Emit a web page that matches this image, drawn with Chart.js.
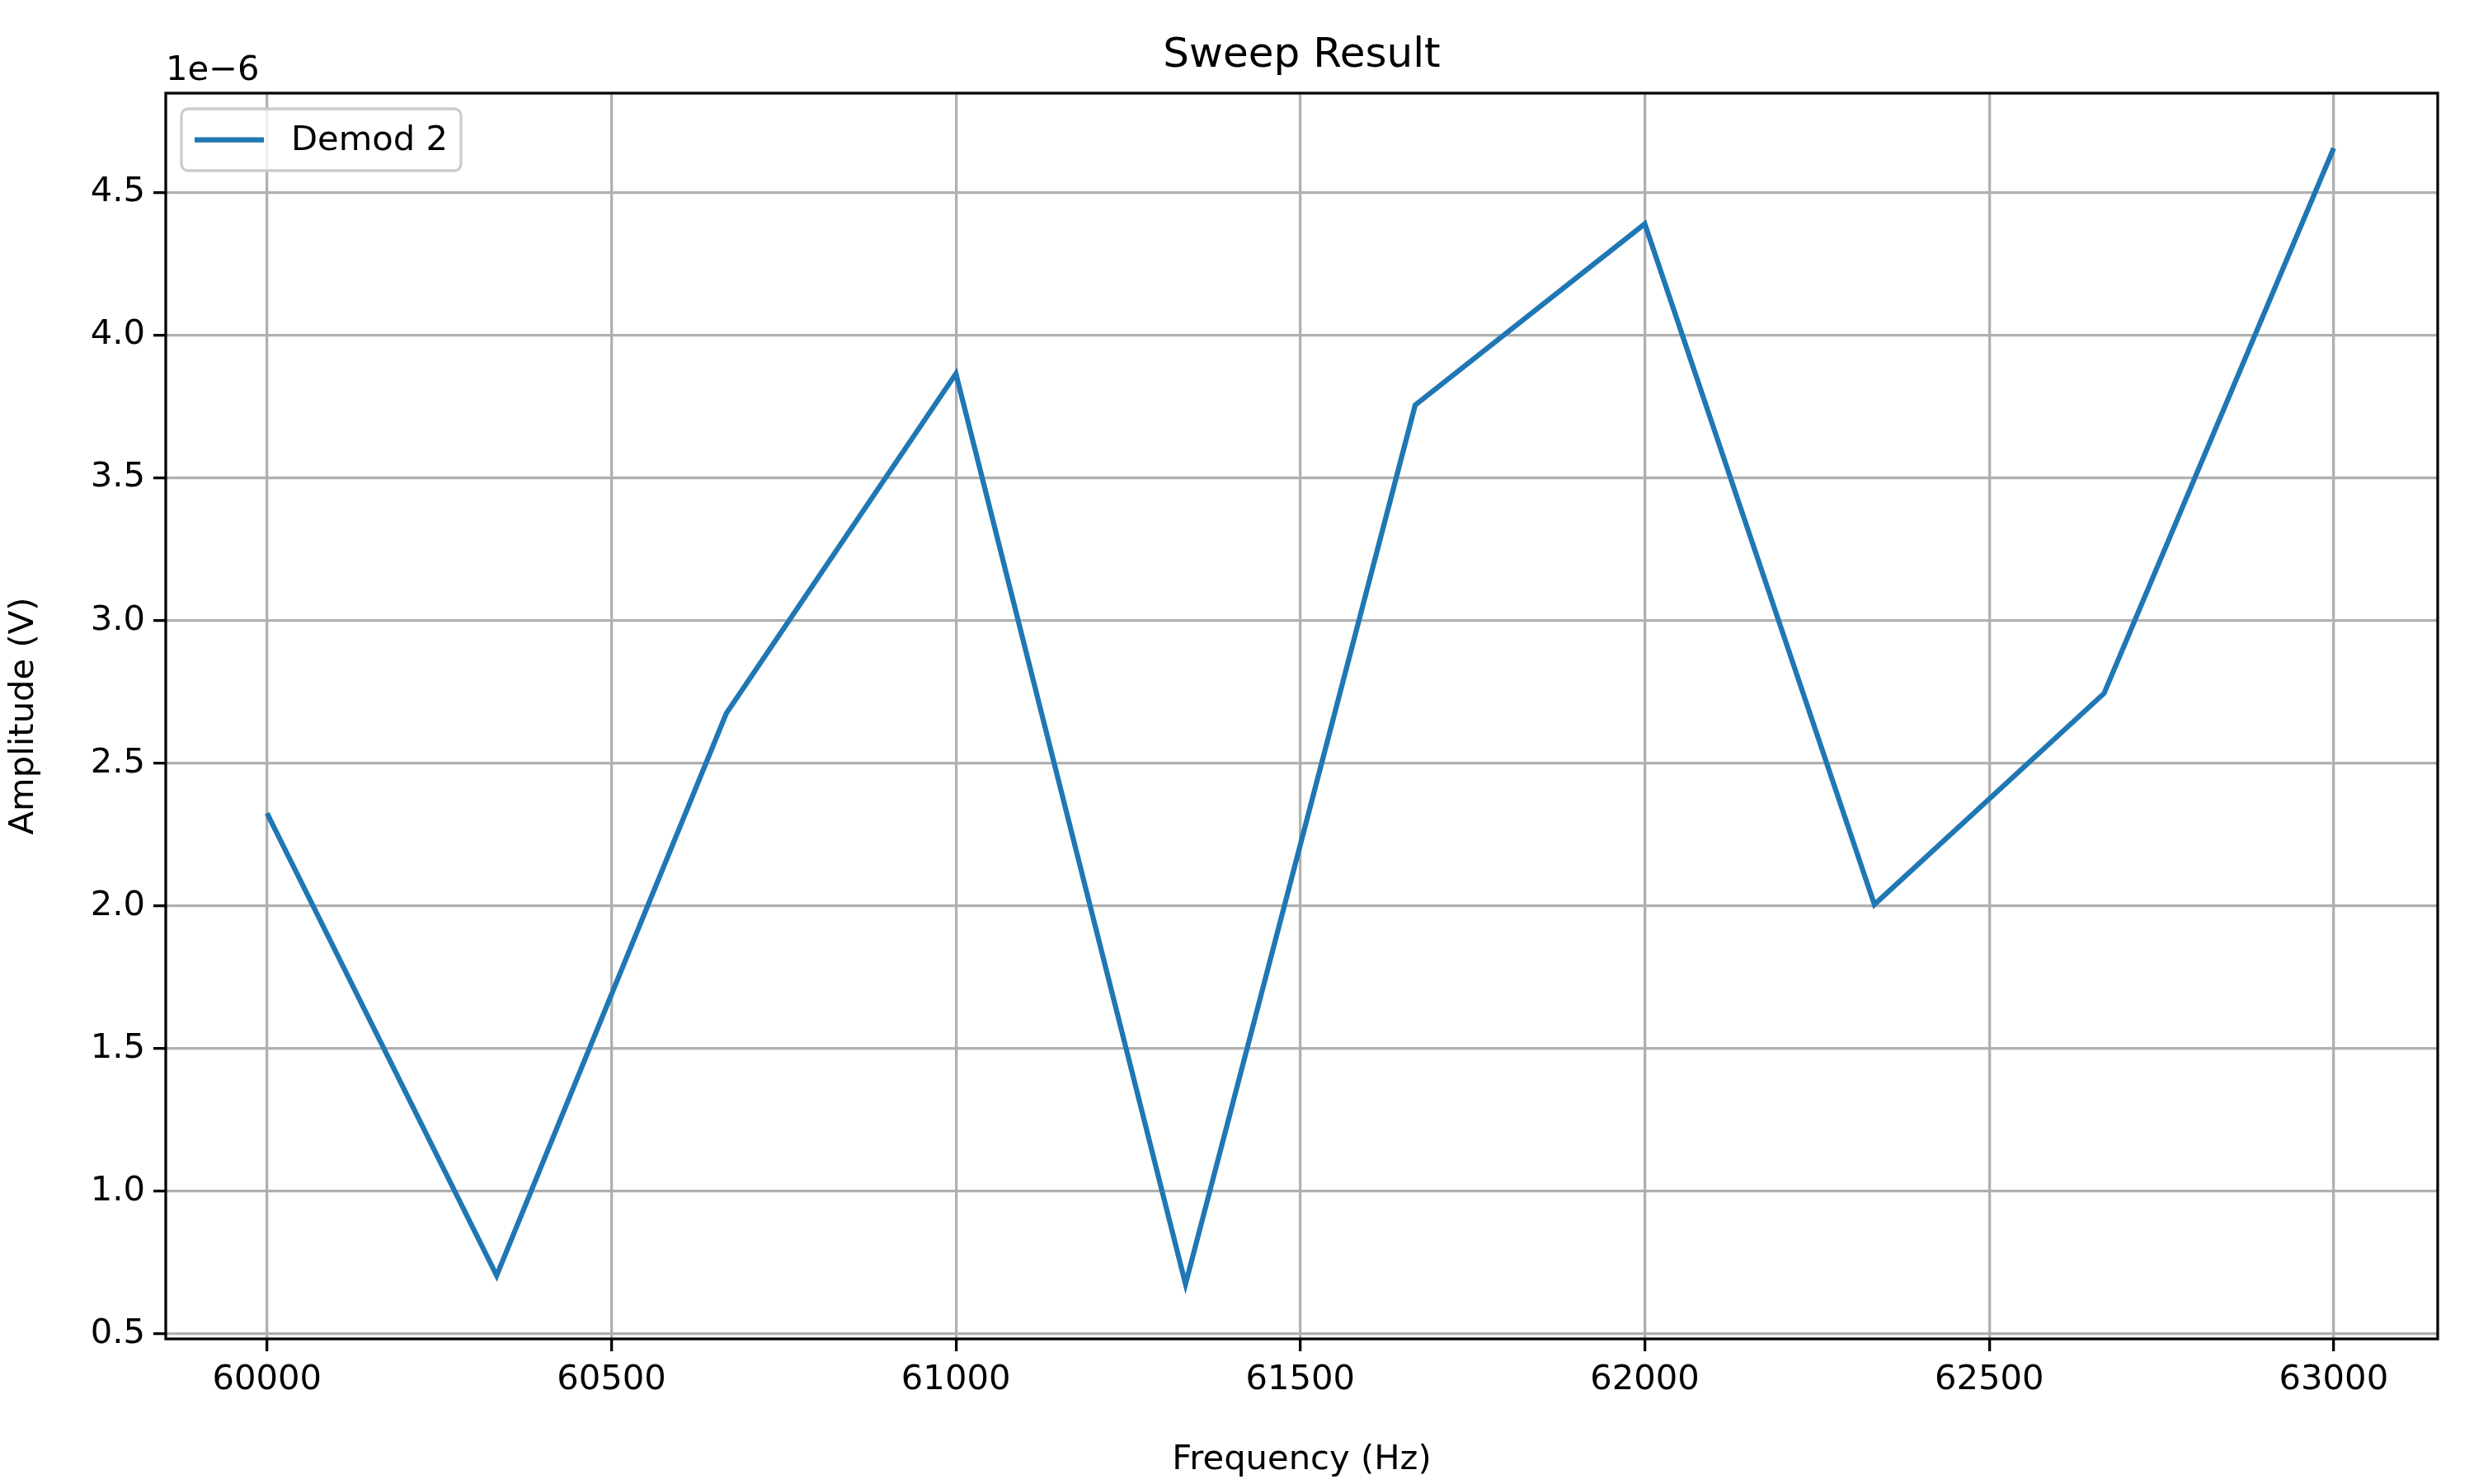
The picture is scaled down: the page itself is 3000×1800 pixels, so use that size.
<!DOCTYPE html>
<html>
<head>
<meta charset="utf-8">
<script src="https://cdn.jsdelivr.net/npm/chart.js@4/dist/chart.umd.min.js"></script>
<style>body{margin:0;background:#fff}</style>
</head>
<body>
<canvas id="c" width="3000" height="1800"></canvas>
<script>
// Sweep data (amplitude in units of 1e-6 V)
const frequencies = [60000, 60333.3, 60666.7, 61000, 61333.3, 61666.7, 62000, 62333.3, 62666.7, 63000];
const amplitudes = [2.325, 0.705, 2.675, 3.865, 0.675, 3.755, 4.39, 2.005, 2.745, 4.655];
const xTicks = [60000, 60500, 61000, 61500, 62000, 62500, 63000];
const yTicks = [0.5, 1.0, 1.5, 2.0, 2.5, 3.0, 3.5, 4.0, 4.5];

const FONT = 'DejaVu Sans';
const AREA = { left: 201, right: 2956, top: 113, bottom: 1624 };

const decor = {
    id: 'decor',
    afterDraw(chart) {
        const ctx = chart.ctx;
        const a = chart.chartArea;
        ctx.save();
        ctx.strokeStyle = '#000';
        ctx.lineWidth = 3.3;
        ctx.strokeRect(a.left, a.top, a.right - a.left, a.bottom - a.top);
        ctx.fillStyle = '#000';
        ctx.font = '50px ' + FONT;
        ctx.textAlign = 'center';
        ctx.textBaseline = 'bottom';
        ctx.fillText('Sweep Result', (a.left + a.right) / 2, a.top - 20);
        ctx.font = '41.7px ' + FONT;
        ctx.textAlign = 'left';
        ctx.fillText('1e\u22126', a.left, a.top - 6);
        // legend
        const lx = 220, ly = 132, lw = 339, lh = 75;
        ctx.fillStyle = 'rgba(255,255,255,0.8)';
        ctx.strokeStyle = '#cccccc';
        ctx.lineWidth = 3.3;
        ctx.beginPath();
        ctx.roundRect(lx, ly, lw, lh, 8);
        ctx.fill();
        ctx.stroke();
        ctx.strokeStyle = '#1f77b4';
        ctx.lineWidth = 6.25;
        ctx.beginPath();
        ctx.moveTo(lx + 16, ly + lh / 2);
        ctx.lineTo(lx + 100, ly + lh / 2);
        ctx.stroke();
        ctx.fillStyle = '#000';
        ctx.textBaseline = 'middle';
        ctx.fillText(chart.data.datasets[0].label, lx + 133, ly + lh / 2 + 2);
        ctx.restore();
    }
};

new Chart(document.getElementById('c'), {
    type: 'line',
    data: {
        datasets: [{
            label: 'Demod 2',
            data: frequencies.map((f, i) => ({ x: f, y: amplitudes[i] })),
            borderColor: '#1f77b4',
            borderWidth: 6.25,
            pointRadius: 0,
            tension: 0,
            fill: false
        }]
    },
    options: {
        responsive: false,
        animation: false,
        devicePixelRatio: 1,
        layout: { padding: { top: AREA.top, right: 3000 - AREA.right, left: 0, bottom: 0 } },
        plugins: { legend: { display: false }, title: { display: false }, tooltip: { enabled: false } },
        scales: {
            x: {
                type: 'linear',
                min: 59853, max: 63151,
                afterBuildTicks: s => { s.ticks = xTicks.map(v => ({ value: v })); },
                afterFit: s => { s.height = 1800 - AREA.bottom; },
                ticks: { color: '#000', font: { family: FONT, size: 41.7 }, padding: 10, maxRotation: 0, callback: v => String(v) },
                grid: { color: '#b0b0b0', lineWidth: 3.3, tickLength: 15, tickColor: '#000', drawTicks: true },
                border: { display: false },
                title: { display: true, text: 'Frequency (Hz)', color: '#000', font: { family: FONT, size: 41.7 }, padding: { top: 8 } }
            },
            y: {
                min: 0.483, max: 4.848,
                afterBuildTicks: s => { s.ticks = yTicks.map(v => ({ value: v })); },
                afterFit: s => { s.width = AREA.left; },
                ticks: { color: '#000', font: { family: FONT, size: 41.7 }, padding: 10, callback: v => v.toFixed(1) },
                grid: { color: '#b0b0b0', lineWidth: 3.3, tickLength: 15, tickColor: '#000' },
                border: { display: false },
                title: { display: true, text: 'Amplitude (V)', color: '#000', font: { family: FONT, size: 41.7 }, padding: { bottom: 8 } }
            }
        }
    },
    plugins: [decor]
});
</script>
</body>
</html>
